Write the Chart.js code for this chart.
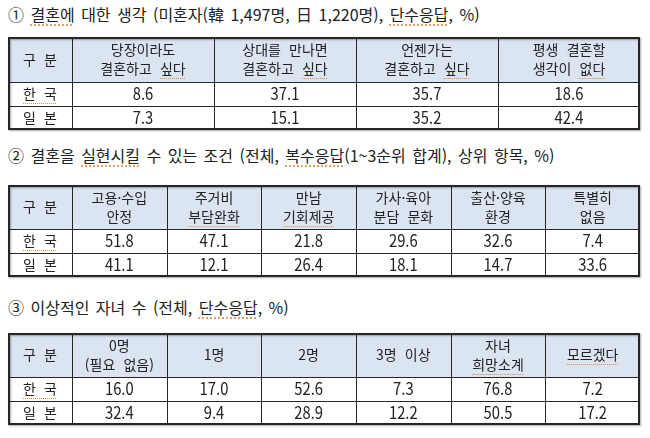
<!DOCTYPE html>
<html lang="ko">
<head>
<meta charset="utf-8">
<script src="https://cdn.jsdelivr.net/npm/chart.js@4.4.1/dist/chart.umd.min.js"></script>
<style>
  html, body { margin: 0; padding: 0; background: #fff; }
  body { width: 650px; height: 438px; position: relative; overflow: hidden;
         font-family: "Noto Sans CJK KR", sans-serif; color: #222; }
  .title { position: absolute; left: 8px; font-size: 16px; line-height: 20px; white-space: nowrap; word-spacing: 2px; }
  .sq { text-decoration: underline dotted #e8873a; text-underline-offset: 4px; }
  .box { position: absolute; left: 0; width: 650px; }
</style>
</head>
<body>
<div class="title" style="top:4px">① <span class="sq">결혼에</span> 대한 생각 (미혼자(韓 1,497명, 日 1,220명), <span class="sq">단수응답</span>, %)</div>
<div class="box" style="top:35px;height:99px"><canvas id="table1"></canvas></div>

<div class="title" style="top:145px">② 결혼을 <span class="sq">실현시킬</span> 수 있는 조건 (전체, <span class="sq">복수응답</span>(1~3순위 합계), 상위 항목, %)</div>
<div class="box" style="top:183px;height:98px"><canvas id="table2"></canvas></div>

<div class="title" style="top:297px">③ 이상적인 자녀 수 (전체, <span class="sq">단수응답</span>, %)</div>
<div class="box" style="top:331px;height:98px"><canvas id="table3"></canvas></div>

<script>
const rowLabels = ['한 국', '일 본'];
const cornerLabel = '구 분';

// ① 결혼에 대한 생각
const marriageHeaders = [['당장이라도', '결혼하고 싶다'], ['상대를 만나면', '결혼하고 싶다'], ['언젠가는', '결혼하고 싶다'], ['평생 결혼할', '생각이 없다']];
const marriageKorea = [8.6, 37.1, 35.7, 18.6];
const marriageJapan = [7.3, 15.1, 35.2, 42.4];

// ② 결혼을 실현시킬 수 있는 조건
const conditionHeaders = [['고용·수입', '안정'], ['주거비', '부담완화'], ['만남', '기회제공'], ['가사·육아', '분담 문화'], ['출산·양육', '환경'], ['특별히', '없음']];
const conditionKorea = [51.8, 47.1, 21.8, 29.6, 32.6, 7.4];
const conditionJapan = [41.1, 12.1, 26.4, 18.1, 14.7, 33.6];

// ③ 이상적인 자녀 수
const childHeaders = [['0명', '(필요 없음)'], '1명', '2명', '3명 이상', ['자녀', '희망소계'], '모르겠다'];
const childKorea = [16.0, 17.0, 52.6, 7.3, 76.8, 7.2];
const childJapan = [32.4, 9.4, 28.9, 12.2, 50.5, 17.2];

// words the word processor marked with a dotted underline
const spellMarks = ['싶다', '없다', '한 국', '부담완화', '기회제공', '희망소계', '모르겠다'];

const lineColor = '#262626';
const headerFill = '#dbe5f1';
const textColor = '#222';
const fontFamily = '"Noto Sans CJK KR", sans-serif';

function drawLabel(ctx, text, cx, cy) {
    ctx.fillText(text, cx, cy);
    spellMarks.forEach(mark => {
        const at = text.indexOf(mark);
        if (at < 0) return;
        const full = ctx.measureText(text).width;
        const start = cx - full / 2 + ctx.measureText(text.slice(0, at)).width;
        const w = ctx.measureText(mark).width;
        ctx.save();
        ctx.strokeStyle = '#e8873a';
        ctx.lineWidth = 1;
        ctx.setLineDash([1, 1]);
        ctx.beginPath();
        ctx.moveTo(start, Math.round(cy + 9) + 0.5);
        ctx.lineTo(start + w, Math.round(cy + 9) + 0.5);
        ctx.stroke();
        ctx.restore();
    });
}

// numbers in the source are tall and narrow
function drawNumber(ctx, text, cx, cy) {
    ctx.save();
    ctx.translate(cx, cy);
    ctx.scale(0.87, 1);
    ctx.font = '17px ' + fontFamily;
    ctx.fillText(text, 0, 0);
    ctx.restore();
}

const tablePlugin = {
    id: 'tableCells',
    afterDraw(chart, args, opts) {
        const ctx = chart.ctx;
        const xs = chart.scales.x;
        const ys = chart.scales.y;
        const cols = xs.getLabels();
        const rows = ys.getLabels();
        const colW = xs.width / cols.length;
        const rowH = ys.height / rows.length;
        const left = ys.left, right = xs.right, top = xs.top, bottom = ys.bottom;
        const headBottom = xs.bottom;
        const firstColMid = (ys.left + xs.left) / 2;
        const headMid = (top + headBottom) / 2;

        ctx.save();
        ctx.fillStyle = headerFill;
        ctx.fillRect(left, top, right - left, headBottom - top);

        // inner lines
        ctx.strokeStyle = lineColor;
        ctx.lineWidth = 1;
        ctx.beginPath();
        cols.forEach((c, i) => {
            const bx = Math.round(xs.getPixelForValue(i) - colW / 2) + 0.5;
            ctx.moveTo(bx, top);
            ctx.lineTo(bx, bottom);
        });
        rows.forEach((r, j) => {
            const by = Math.round(ys.getPixelForValue(j) - rowH / 2) + 0.5;
            ctx.moveTo(left, by);
            ctx.lineTo(right, by);
        });
        ctx.stroke();

        // outer frame with a faint shadow
        ctx.save();
        ctx.shadowColor = 'rgba(0,0,0,0.35)';
        ctx.shadowOffsetX = 1;
        ctx.shadowOffsetY = 1;
        ctx.shadowBlur = 2;
        ctx.lineWidth = 2;
        ctx.strokeRect(left + 1, top + 1, right - left - 2, bottom - top - 2);
        ctx.restore();

        ctx.fillStyle = textColor;
        ctx.textAlign = 'center';
        ctx.textBaseline = 'middle';
        ctx.font = '14px ' + fontFamily;
        ctx.wordSpacing = '5px';
        drawLabel(ctx, opts.corner, firstColMid, headMid);

        cols.forEach((lab, i) => {
            const lines = [].concat(lab);
            const cx = xs.getPixelForValue(i);
            lines.forEach((ln, k) => {
                drawLabel(ctx, ln, cx, headMid + (k - (lines.length - 1) / 2) * 19);
            });
        });

        rows.forEach((lab, j) => {
            drawLabel(ctx, lab, firstColMid, ys.getPixelForValue(j));
        });

        opts.values.forEach((vals, j) => {
            const cy = ys.getPixelForValue(j);
            vals.forEach((v, i) => {
                drawNumber(ctx, v.toFixed(1), xs.getPixelForValue(i), cy);
            });
        });
        ctx.restore();
    }
};

function makeTable(id, headers, values, headerHeight) {
    return new Chart(document.getElementById(id), {
        type: 'bar',
        data: { labels: headers, datasets: [] },
        plugins: [tablePlugin],
        options: {
            responsive: true,
            maintainAspectRatio: false,
            animation: false,
            events: [],
            layout: { padding: { left: 8, right: 10, top: 2, bottom: 4 } },
            plugins: {
                legend: { display: false },
                tooltip: { enabled: false },
                tableCells: { corner: cornerLabel, values: values }
            },
            scales: {
                x: {
                    type: 'category',
                    position: 'top',
                    offset: true,
                    grid: { display: false },
                    border: { display: false },
                    ticks: { display: false },
                    afterFit: scale => { scale.height = headerHeight; }
                },
                y: {
                    type: 'category',
                    labels: rowLabels,
                    offset: true,
                    grid: { display: false },
                    border: { display: false },
                    ticks: { display: false },
                    afterFit: scale => { scale.width = 64; }
                }
            }
        }
    });
}

makeTable('table1', marriageHeaders, [marriageKorea, marriageJapan], 45);
makeTable('table2', conditionHeaders, [conditionKorea, conditionJapan], 44);
makeTable('table3', childHeaders, [childKorea, childJapan], 44);
</script>
</body>
</html>
